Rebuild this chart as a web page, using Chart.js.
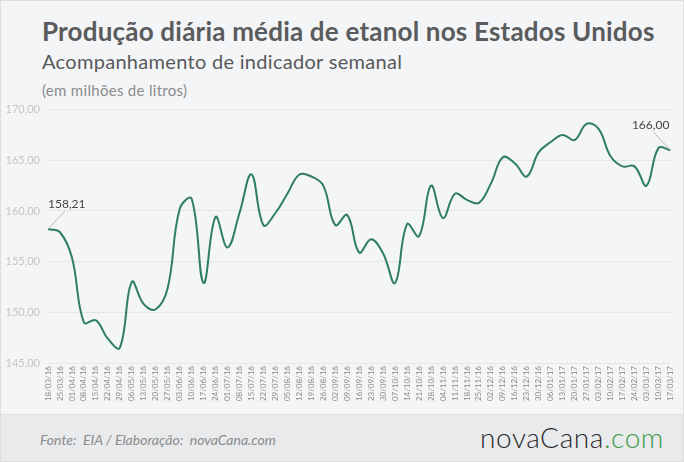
<!DOCTYPE html>
<html lang="pt-BR">
<head>
<meta charset="utf-8">
<title>Produção diária média de etanol nos Estados Unidos</title>
<script src="https://cdn.jsdelivr.net/npm/chart.js@4/dist/chart.umd.min.js"></script>
<style>
  html, body { margin: 0; padding: 0; }
  body { width: 684px; height: 462px; overflow: hidden; font-family: Lato, "Open Sans", sans-serif; }
  .frame {
    position: relative; width: 682px; height: 460px;
    background: #f4f5f7; border: 1px solid #dcdddf;
  }
  .title { position: absolute; left: 41px; top: 14px; font-size: 26px; font-weight: 700; color: #5a5b5d; white-space: nowrap; letter-spacing: 0.2px; }
  .subtitle { position: absolute; left: 41px; top: 48px; font-size: 20px; color: #58595b; white-space: nowrap; letter-spacing: 0.3px; }
  .unit { position: absolute; left: 41px; top: 80px; font-size: 15px; color: #8a8b8d; white-space: nowrap; letter-spacing: 0.3px; }
  .chart-box { position: absolute; left: 0; top: 94px; width: 682px; height: 320px; }
  .footer {
    position: absolute; left: 0; bottom: 0; width: 682px; height: 46px;
    background: #e9eaeb; border-top: 1px solid #dfe0e1;
  }
  .source { position: absolute; left: 39px; top: 16px; font-size: 14px; font-style: italic; color: #8a8b8d; }
  .logo { position: absolute; right: 19px; top: 5px; font-size: 28px; font-weight: 300; color: #2b2b2b; letter-spacing: 0.6px; }
  .logo span { color: #3c9b4a; }
</style>
</head>
<body>
<div class="frame">
  <div class="title">Produção diária média de etanol nos Estados Unidos</div>
  <div class="subtitle">Acompanhamento de indicador semanal</div>
  <div class="unit">(em milhões de litros)</div>
  <div class="chart-box"><canvas id="chart"></canvas></div>
  <div class="footer">
    <div class="source">Fonte:&nbsp; EIA / Elaboração:&nbsp; novaCana.com</div>
    <div class="logo">novaCana<span>.com</span></div>
  </div>
</div>
<script>
const weeks = [
  "18/03/16", "25/03/16", "01/04/16", "08/04/16", "15/04/16", "22/04/16", "29/04/16",
  "06/05/16", "13/05/16", "20/05/16", "27/05/16", "03/06/16", "10/06/16", "17/06/16",
  "24/06/16", "01/07/16", "08/07/16", "15/07/16", "22/07/16", "29/07/16", "05/08/16",
  "12/08/16", "19/08/16", "26/08/16", "02/09/16", "09/09/16", "16/09/16", "23/09/16",
  "30/09/16", "07/10/16", "14/10/16", "21/10/16", "28/10/16", "04/11/16", "11/11/16",
  "18/11/16", "25/11/16", "02/12/16", "09/12/16", "16/12/16", "23/12/16", "30/12/16",
  "06/01/17", "13/01/17", "20/01/17", "27/01/17", "03/02/17", "10/02/17", "17/02/17",
  "24/02/17", "03/03/17", "10/03/17", "17/03/17"
];

// milhões de litros por dia
const production = [
  158.21, 157.9, 155.4, 149.0, 149.2, 147.4, 146.5,
  153.0, 150.8, 150.3, 152.4, 160.2, 161.2, 152.9,
  159.4, 156.4, 159.8, 163.6, 158.6, 159.8, 161.7,
  163.6, 163.4, 162.5, 158.6, 159.6, 155.9, 157.2,
  155.8, 152.9, 158.7, 157.5, 162.5, 159.3, 161.7,
  161.1, 160.8, 162.7, 165.3, 164.7, 163.4, 165.8,
  166.8, 167.5, 167.0, 168.6, 168.1, 165.4, 164.4,
  164.4, 162.5, 166.2, 166.00
];

const yTicks = [145, 150, 155, 160, 165, 170];

// índices dos pontos com rótulo de valor
const labelled = [0, production.length - 1];

const fmt = v => v.toFixed(2).replace(".", ",");

// rótulos do primeiro e do último ponto, com linha de chamada
const endLabels = {
  id: "endLabels",
  afterDatasetsDraw(chart) {
    const { ctx } = chart;
    const meta = chart.getDatasetMeta(0);
    ctx.save();
    ctx.font = "12px Lato, sans-serif";
    ctx.fillStyle = "#444";
    ctx.strokeStyle = "#a8a9ab";
    ctx.lineWidth = 0.8;
    labelled.forEach(i => {
      const p = meta.data[i];
      const first = i === 0;
      const ex = first ? p.x + 17 : p.x - 17;
      const ey = p.y - 18;
      ctx.beginPath();
      ctx.moveTo(p.x, p.y);
      ctx.lineTo(ex, ey);
      ctx.stroke();
      ctx.textAlign = first ? "left" : "right";
      ctx.textBaseline = "bottom";
      ctx.fillText(fmt(production[i]), first ? p.x : p.x - 1, ey - 1);
    });
    ctx.restore();
  }
};

new Chart(document.getElementById("chart"), {
  type: "line",
  data: {
    labels: weeks,
    datasets: [{
      data: production,
      borderColor: "#2f7d64",
      borderWidth: 2,
      pointRadius: 0,
      tension: 0.4,
      fill: false
    }]
  },
  options: {
    responsive: true,
    maintainAspectRatio: false,
    animation: false,
    layout: { padding: { top: 13, right: 11, left: 0, bottom: 0 } },
    plugins: {
      legend: { display: false },
      tooltip: { enabled: false }
    },
    scales: {
      x: {
        grid: { display: false, drawTicks: false },
        border: { display: false },
        afterFit(scale) { scale.height = 52; },
        ticks: {
          autoSkip: false,
          maxRotation: 90,
          minRotation: 90,
          padding: 3,
          color: "#8a8b8d",
          font: { size: 8, family: "Lato, sans-serif" }
        }
      },
      y: {
        min: 145,
        max: 170,
        afterBuildTicks(scale) { scale.ticks = yTicks.map(v => ({ value: v })); },
        afterFit(scale) { scale.width = 47; },
        grid: { color: "#e4e6e9", lineWidth: 1, drawTicks: false },
        border: { display: false },
        ticks: {
          padding: 8,
          color: "#c4c5c7",
          font: { size: 11, family: "Lato, sans-serif" },
          callback: v => fmt(v)
        }
      }
    }
  },
  plugins: [endLabels]
});
</script>
</body>
</html>
